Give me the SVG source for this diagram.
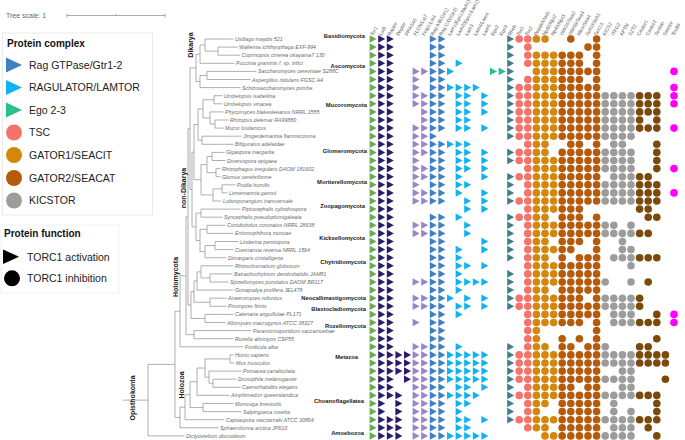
<svg xmlns="http://www.w3.org/2000/svg" xmlns:xlink="http://www.w3.org/1999/xlink" width="685" height="440" viewBox="0 0 685 440">
<style>
text{font-family:"Liberation Sans",Arial,sans-serif}
.tl{fill:none;stroke:#9a9a9a;stroke-width:0.8}
.sp{font-style:italic;font-size:5.3px;fill:#6b6b6b}
.cl{font-weight:bold;font-size:5.8px;fill:#1a1a1a;text-anchor:end}
.gl{font-weight:bold;font-size:7px;fill:#1a1a1a;text-anchor:middle}
.hd{font-size:4.9px;fill:#555}
.lg{font-size:10.5px;fill:#222}
.lt{font-weight:bold;font-size:10px;fill:#111}
.mx path,.mx use{fill:none;stroke:none}
.a{marker:url(#ka)}.b{marker:url(#kb)}.c{marker:url(#kc)}.d{marker:url(#kd)}.e{marker:url(#ke)}.f{marker:url(#kf)}.h{marker:url(#kh)}
.s{marker:url(#ks)}.o{marker:url(#ko)}.w{marker:url(#kw)}.k{marker:url(#kk)}.z{marker:url(#kz)}.m{marker:url(#km)}
</style>
<defs>
<marker id="ka" markerUnits="userSpaceOnUse" markerWidth="10" markerHeight="10" refX="5" refY="5" overflow="visible"><path d="M1.6,1.2L8.6,5L1.6,8.8Z" fill="#6aaa50"/></marker>
<marker id="kb" markerUnits="userSpaceOnUse" markerWidth="10" markerHeight="10" refX="5" refY="5" overflow="visible"><path d="M1.6,1.2L8.6,5L1.6,8.8Z" fill="#2b1b6b"/></marker>
<marker id="kc" markerUnits="userSpaceOnUse" markerWidth="10" markerHeight="10" refX="5" refY="5" overflow="visible"><path d="M1.6,1.2L8.6,5L1.6,8.8Z" fill="#9a85c6"/></marker>
<marker id="kd" markerUnits="userSpaceOnUse" markerWidth="10" markerHeight="10" refX="5" refY="5" overflow="visible"><path d="M1.6,1.2L8.6,5L1.6,8.8Z" fill="#3f80c4"/></marker>
<marker id="ke" markerUnits="userSpaceOnUse" markerWidth="10" markerHeight="10" refX="5" refY="5" overflow="visible"><path d="M1.6,1.2L8.6,5L1.6,8.8Z" fill="#0fb3f2"/></marker>
<marker id="kf" markerUnits="userSpaceOnUse" markerWidth="10" markerHeight="10" refX="5" refY="5" overflow="visible"><path d="M1.6,1.2L8.6,5L1.6,8.8Z" fill="#2cbf8e"/></marker>
<marker id="kh" markerUnits="userSpaceOnUse" markerWidth="10" markerHeight="10" refX="5" refY="5" overflow="visible"><path d="M1.6,1.2L8.6,5L1.6,8.8Z" fill="#3e7f8b"/></marker>
<marker id="ks" markerUnits="userSpaceOnUse" markerWidth="10" markerHeight="10" refX="5" refY="5" overflow="visible"><circle cx="5" cy="5" r="3.8" fill="#f4736b"/></marker>
<marker id="ko" markerUnits="userSpaceOnUse" markerWidth="10" markerHeight="10" refX="5" refY="5" overflow="visible"><circle cx="5" cy="5" r="3.8" fill="#d4870c"/></marker>
<marker id="kw" markerUnits="userSpaceOnUse" markerWidth="10" markerHeight="10" refX="5" refY="5" overflow="visible"><circle cx="5" cy="5" r="3.8" fill="#b65b0b"/></marker>
<marker id="kk" markerUnits="userSpaceOnUse" markerWidth="10" markerHeight="10" refX="5" refY="5" overflow="visible"><circle cx="5" cy="5" r="3.8" fill="#9c9c9c"/></marker>
<marker id="kz" markerUnits="userSpaceOnUse" markerWidth="10" markerHeight="10" refX="5" refY="5" overflow="visible"><circle cx="5" cy="5" r="3.8" fill="#7b4a0a"/></marker>
<marker id="km" markerUnits="userSpaceOnUse" markerWidth="10" markerHeight="10" refX="5" refY="5" overflow="visible"><circle cx="5" cy="5" r="3.8" fill="#ff00ff"/></marker>
<path id="all" d="M0 39V47.1V55.2V63.3V71.4V79.5V87.6V95.7V103.8V111.9V120V128.1V136.2V144.3V152.4V160.5V168.6V176.7V184.8V192.9V201V209.1V217.2V225.3V233.4V241.5V249.6V257.7V265.8V273.9V282V290.1V298.2V306.3V314.4V322.5V330.6V338.7V346.8V354.9V363V371.1V379.2V387.3V395.4V403.5V411.6V419.7V427.8V435.9"/>
</defs>
<rect width="685" height="440" fill="#fff"/>

<g id="scale">
<text x="6" y="18" style="font-size:7px;fill:#666">Tree scale: 1</text>
<path d="M67,15.5H165M67,13.5V17.5M116,14V15.5M165,13.5V17.5" fill="none" stroke="#888" stroke-width="0.7"/>
</g>

<g id="legend-complex">
<rect x="2.5" y="33" width="150" height="182" fill="#fff" stroke="#e6e6e6" stroke-width="0.8"/>
<text class="lt" x="7" y="46.5">Protein complex</text>
<path d="M6,57.5L22,65L6,72.5Z" fill="#3f80c4"/><text class="lg" x="29" y="69">Rag GTPase/Gtr1-2</text>
<path d="M6,80L22,87.5L6,95Z" fill="#0fb3f2"/><text class="lg" x="29" y="91.3">RAGULATOR/LAMTOR</text>
<path d="M6,102.5L22,110L6,117.5Z" fill="#2cbf8e"/><text class="lg" x="29" y="113.8">Ego 2-3</text>
<circle cx="14" cy="132.5" r="8" fill="#f4736b"/><text class="lg" x="29" y="136.3">TSC</text>
<circle cx="14" cy="155" r="8" fill="#d4870c"/><text class="lg" x="29" y="158.8">GATOR1/SEACIT</text>
<circle cx="14" cy="178" r="8" fill="#b65b0b"/><text class="lg" x="29" y="181.8">GATOR2/SEACAT</text>
<circle cx="14" cy="200.5" r="8" fill="#9c9c9c"/><text class="lg" x="29" y="204.3">KICSTOR</text>
</g>

<g id="legend-function">
<rect x="1" y="225" width="118" height="68" fill="#fff" stroke="#eeeeee" stroke-width="0.8"/>
<text class="lt" x="4" y="236.5">Protein function</text>
<path d="M3,249.5L19,256.7L3,264Z" fill="#000"/><text class="lg" x="27" y="260.5">TORC1 activation</text>
<circle cx="12" cy="278.3" r="8" fill="#000"/><text class="lg" x="27" y="282">TORC1 inhibition</text>
</g>

<g id="connectors">
<path class="tl" d="M218,47.1V55.2M218,47.1H237.5M218,55.2H240M205,39V51.15M205,39H233.5M205,51.15H218M200,45.08V63.3M200,45.08H205M200,63.3H234.5M207,71.4V79.5M207,71.4H256.5M207,79.5H250.5M200,75.45V87.6M200,75.45H207M200,87.6H240.5M196,54.19V81.53M196,54.19H200M196,81.53H200M214,95.7V103.8M214,95.7H222.5M214,103.8H222.5M215,120V128.1M215,120H228.5M215,128.1H223.5M210,111.9V124.05M210,111.9H223.5M210,124.05H215M203,99.75V117.98M203,99.75H214M203,117.98H210M202,136.2V144.3M202,136.2H241.5M202,144.3H233.5M198,108.86V140.25M198,108.86H203M198,140.25H202M212,152.4V160.5M212,152.4H224.5M212,160.5H225.5M216,168.6V176.7M216,168.6H220.5M216,176.7H220.5M207,156.45V172.65M207,156.45H212M207,172.65H216M222,184.8V192.9M222,184.8H235.5M222,192.9H227.5M213,188.85V201M213,188.85H222M213,201H221.5M201,164.55V194.93M201,164.55H207M201,194.93H213M194,124.56V179.74M194,124.56H198M194,179.74H201M201,209.1V217.2M201,209.1H240.5M201,217.2H222.5M207,225.3V233.4M207,225.3H225.5M207,233.4H233.5M215,241.5V249.6M215,241.5H238.5M215,249.6H233.5M205,245.55V257.7M205,245.55H215M205,257.7H226.5M200,229.35V251.63M200,229.35H207M200,251.63H205M196,213.15V240.49M196,213.15H201M196,240.49H200M192,152.15V226.82M192,152.15H194M192,226.82H196M190,67.86V189.49M190,67.86H196M190,189.49H192M210,273.9V282M210,273.9H232.5M210,282H228.5M201,265.8V277.95M201,265.8H233.5M201,277.95H210M197,271.88V290.1M197,271.88H201M197,290.1H233.5M210,298.2V306.3M210,298.2H226.5M210,306.3H226.5M194,280.99V302.25M194,280.99H197M194,302.25H210M205,314.4V322.5M205,314.4H233.5M205,322.5H225.5M191,291.62V318.45M191,291.62H194M191,318.45H205M188,128.68V305.04M188,128.68H190M188,305.04H191M194,330.6V338.7M194,330.6H251.5M194,338.7H233.5M186,216.86V334.65M186,216.86H188M186,334.65H194M180,275.75V346.8M180,275.75H186M180,346.8H243.5M230,354.9V363M230,354.9H233.5M230,363H234.5M213,379.2V387.3M213,379.2H236.5M213,387.3H240.5M209,371.1V383.25M209,371.1H241.5M209,383.25H213M205,358.95V377.18M205,358.95H230M205,377.18H209M197,368.07V395.4M197,368.07H205M197,395.4H229.5M203,403.5V411.6M203,403.5H233.5M203,411.6H241.5M190,381.73V407.55M190,381.73H197M190,407.55H203M185,394.64V419.7M185,394.64H190M185,419.7H224.5M180,407.17V427.8M180,407.17H185M180,427.8H218.5M175,311.28V417.49M175,311.28H180M175,417.49H180M148,364.38V435.9M148,364.38H175M148,435.9H184.5M123,400.14H148"/>
</g>

<g id="group-labels">
<text class="gl" transform="translate(192.5,45) rotate(-90)">Dikarya</text>
<text class="gl" transform="translate(185.5,188) rotate(-90)">non-Dikarya</text>
<text class="gl" transform="translate(177.5,277) rotate(-90)">Holomycota</text>
<text class="gl" transform="translate(183.5,385) rotate(-90)">Holozoa</text>
<text class="gl" transform="translate(134.5,398) rotate(-90)">Opisthokonta</text>
</g>

<g id="clade-labels">
<text class="cl" x="365" y="38">Basidiomycota</text>
<text class="cl" x="365" y="68">Ascomycota</text>
<text class="cl" x="367" y="107">Mucoromycota</text>
<text class="cl" x="367" y="153">Glomeromycota</text>
<text class="cl" x="367" y="184">Mortierellomycota</text>
<text class="cl" x="365" y="208">Zoopagomycota</text>
<text class="cl" x="365" y="240">Kickxellomycota</text>
<text class="cl" x="366" y="264">Chytridiomycota</text>
<text class="cl" x="366" y="300">Neocallimastigomycota</text>
<text class="cl" x="366" y="311">Blastocladiomycota</text>
<text class="cl" x="366" y="328">Rozellomycota</text>
<text class="cl" x="358" y="359">Metazoa</text>
<text class="cl" x="364" y="403">Choanoflagellatea</text>
<text class="cl" x="364" y="435">Amoebozoa</text>
</g>

<g id="species" class="sp">
<g id="n0"><text x="235" y="41">Ustilago maydis 521</text></g>
<g id="n1"><text x="239" y="49.1">Wallemia ichthyophaga EXF-994</text></g>
<g id="n2"><text x="241.5" y="57.2">Coprinopsis cinerea okayama7 130</text></g>
<g id="n3"><text x="236" y="65.3">Puccinia graminis f. sp. tritici</text></g>
<g id="n4"><text x="258" y="73.4">Saccharomyces cerevisiae S288C</text></g>
<g id="n5"><text x="252" y="81.5">Aspergillus nidulans FGSC A4</text></g>
<g id="n6"><text x="242" y="89.6">Schizosaccharomyces pombe</text></g>
<g id="n7"><text x="224" y="97.7">Umbelopsis isabellina</text></g>
<g id="n8"><text x="224" y="105.8">Umbelopsis vinacea</text></g>
<g id="n9"><text x="225" y="113.9">Phycomyces blakesleeanus NRRL 1555</text></g>
<g id="n10"><text x="230" y="122">Rhizopus delemar RA99880</text></g>
<g id="n11"><text x="225" y="130.1">Mucor lusitanicus</text></g>
<g id="n12"><text x="243" y="138.2">Jimgerdemannia flammicorona</text></g>
<g id="n13"><text x="235" y="146.3">Bifiguratus adelaidae</text></g>
<g id="n14"><text x="226" y="154.4">Gigaspora margarita</text></g>
<g id="n15"><text x="227" y="162.5">Diversispora epigaea</text></g>
<g id="n16"><text x="222" y="170.6">Rhizophagus irregularis DAOM 181602</text></g>
<g id="n17"><text x="222" y="178.7">Glomus cerebriforme</text></g>
<g id="n18"><text x="237" y="186.8">Podila humilis</text></g>
<g id="n19"><text x="229" y="194.9">Linnemannia gamsii</text></g>
<g id="n20"><text x="223" y="203">Lobosporangium transversale</text></g>
<g id="n21"><text x="242" y="211.1">Piptocephalis cylindrospora</text></g>
<g id="n22"><text x="224" y="219.2">Syncephalis pseudoplumigaleata</text></g>
<g id="n23"><text x="227" y="227.3">Conidiobolus coronatus NRRL 28638</text></g>
<g id="n24"><text x="235" y="235.4">Entomophthora muscae</text></g>
<g id="n25"><text x="240" y="243.5">Linderina pennispora</text></g>
<g id="n26"><text x="235" y="251.6">Coemansia reversa NRRL 1564</text></g>
<g id="n27"><text x="228" y="259.7">Dimargaris cristalligena</text></g>
<g id="n28"><text x="235" y="267.8">Rhizoclosmatium globosum</text></g>
<g id="n29"><text x="234" y="275.9">Batrachochytrium dendrobatidis JAM81</text></g>
<g id="n30"><text x="230" y="284">Spizellomyces punctatus DAOM BR117</text></g>
<g id="n31"><text x="235" y="292.1">Gonapodya prolifera JEL478</text></g>
<g id="n32"><text x="228" y="300.2">Anaeromyces robustus</text></g>
<g id="n33"><text x="228" y="308.3">Piromyces finnis</text></g>
<g id="n34"><text x="235" y="316.4">Catenaria anguillulae PL171</text></g>
<g id="n35"><text x="227" y="324.5">Allomyces macrogynus ATCC 38327</text></g>
<g id="n36"><text x="253" y="332.6">Paramicrosporidium saccamoebae</text></g>
<g id="n37"><text x="235" y="340.7">Rozella allomycis CSF55</text></g>
<g id="n38"><text x="245" y="348.8">Fonticula alba</text></g>
<g id="n39"><text x="235" y="356.9">Homo sapiens</text></g>
<g id="n40"><text x="236" y="365">Mus musculus</text></g>
<g id="n41"><text x="243" y="373.1">Pomacea canaliculata</text></g>
<g id="n42"><text x="238" y="381.2">Drosophila melanogaster</text></g>
<g id="n43"><text x="242" y="389.3">Caenorhabditis elegans</text></g>
<g id="n44"><text x="231" y="397.4">Amphimedon queenslandica</text></g>
<g id="n45"><text x="235" y="405.5">Monosiga brevicolis</text></g>
<g id="n46"><text x="243" y="413.6">Salpingoeca rosetta</text></g>
<g id="n47"><text x="226" y="421.7">Capsaspora owczarzaki ATCC 30864</text></g>
<g id="n48"><text x="220" y="429.8">Sphaeroforma arctica JP610</text></g>
<g id="n49"><text x="186" y="437.9">Dictyostelium discoideum</text></g>
</g>

<g id="headers" class="hd">
<text transform="translate(373,36) rotate(-60)">Tor1</text>
<text transform="translate(381.6,36) rotate(-60)">Lst8</text>
<text transform="translate(390.2,36) rotate(-60)">Raptor</text>
<text transform="translate(398.8,36) rotate(-60)">Deptor</text>
<text transform="translate(407.4,36) rotate(-60)">PRAS40</text>
<text transform="translate(416,36) rotate(-60)">FLCN/Lst7</text>
<text transform="translate(424.6,36) rotate(-60)">Fnip1/Lst4</text>
<text transform="translate(433.2,36) rotate(-60)">Rag A/B(Gtr1)</text>
<text transform="translate(441.8,36) rotate(-60)">Rag C/D(Gtr2)</text>
<text transform="translate(450.4,36) rotate(-60)">Lam1(Ego1/Meh1)</text>
<text transform="translate(459,36) rotate(-60)">Lam2(Ego1/Lam1)</text>
<text transform="translate(467.6,36) rotate(-60)">Lam3</text>
<text transform="translate(476.2,36) rotate(-60)">Lam4/Lam4</text>
<text transform="translate(484.8,36) rotate(-60)">Lam5</text>
<text transform="translate(493.4,36) rotate(-60)">Ego2</text>
<text transform="translate(502,36) rotate(-60)">Ego3</text>
<text transform="translate(510.6,36) rotate(-60)">Rheb</text>
<text transform="translate(519.2,36) rotate(-60)">Tsc1</text>
<text transform="translate(527.8,36) rotate(-60)">Tsc2</text>
<text transform="translate(536.4,36) rotate(-60)">Depdc5/Iml1</text>
<text transform="translate(545,36) rotate(-60)">Nprl2/Npr2</text>
<text transform="translate(553.6,36) rotate(-60)">Nprl3/Npr3</text>
<text transform="translate(562.2,36) rotate(-60)">Wdr24/Sea2</text>
<text transform="translate(570.8,36) rotate(-60)">Wdr59/Sea3</text>
<text transform="translate(579.4,36) rotate(-60)">Mios/Sea4</text>
<text transform="translate(588,36) rotate(-60)">Seh1l/Seh1</text>
<text transform="translate(596.6,36) rotate(-60)">Sec13</text>
<text transform="translate(605.2,36) rotate(-60)">KICS2</text>
<text transform="translate(613.8,36) rotate(-60)">ITFG2</text>
<text transform="translate(622.4,36) rotate(-60)">KPTN</text>
<text transform="translate(631,36) rotate(-60)">SZT2</text>
<text transform="translate(639.6,36) rotate(-60)">Castor1</text>
<text transform="translate(648.2,36) rotate(-60)">Castor2</text>
<text transform="translate(656.8,36) rotate(-60)">Sestrin</text>
<text transform="translate(665.4,36) rotate(-60)">Samtor</text>
<text transform="translate(674,36) rotate(-60)">Tco89</text>
</g>

<g id="matrix" class="mx">
<use href="#all" x="373" class="a"/>
<use href="#all" x="381.6" class="b"/>
<path class="b" d="M390.2 39V47.1V55.2V63.3V71.4V79.5V87.6V95.7V103.8V111.9V120V128.1V136.2V144.3V152.4V160.5V168.6V176.7V184.8V192.9V201V209.1V217.2V225.3V233.4V241.5V249.6V257.7V265.8V273.9V282V290.1V298.2V306.3V314.4V322.5V330.6V338.7V346.8V354.9V363V371.1V379.2V387.3V395.4V419.7V427.8V435.9"/>
<path class="b" d="M398.8 354.9V363V371.1V395.4V403.5V411.6V419.7V427.8V435.9"/>
<path class="b" d="M407.4 354.9V363V371.1V379.2"/>
<path class="c" d="M416 71.4V79.5V87.6V95.7V103.8V128.1V136.2V144.3V152.4V160.5V168.6V176.7V184.8V192.9V201V225.3V233.4V282V298.2V306.3V322.5V346.8V354.9V363V371.1V379.2V387.3V395.4V403.5V411.6V419.7V427.8V435.9"/>
<path class="c" d="M424.6 71.4V95.7V103.8V111.9V120V128.1V136.2V144.3V152.4V168.6V176.7V192.9V201V225.3V233.4V282V298.2V306.3V346.8V354.9V363V371.1V379.2V387.3V395.4V403.5V411.6V419.7V427.8V435.9"/>
<path class="d" d="M433.2 39V47.1V55.2V63.3V71.4V79.5V87.6V95.7V103.8V111.9V120V128.1V136.2V144.3V152.4V160.5V168.6V176.7V184.8V192.9V201V217.2V225.3V233.4V241.5V249.6V257.7V265.8V273.9V282V290.1V298.2V306.3V314.4V322.5V330.6V338.7V346.8V354.9V363V371.1V379.2V387.3V395.4V403.5V411.6V419.7V427.8V435.9"/>
<path class="d" d="M441.8 39V47.1V55.2V63.3V71.4V79.5V87.6V95.7V103.8V111.9V120V128.1V144.3V152.4V160.5V168.6V176.7V184.8V192.9V201V217.2V225.3V233.4V241.5V249.6V257.7V265.8V273.9V282V290.1V298.2V306.3V314.4V322.5V330.6V338.7V346.8V354.9V363V371.1V379.2V387.3V395.4V403.5V411.6V419.7V427.8V435.9"/>
<path class="e" d="M450.4 71.4V87.6V144.3V298.2V354.9V363V371.1V379.2V395.4V435.9"/>
<path class="e" d="M459 63.3V87.6V95.7V103.8V111.9V120V128.1V144.3V152.4V160.5V168.6V176.7V184.8V192.9V217.2V249.6V257.7V265.8V273.9V282V290.1V306.3V314.4V346.8V354.9V363V371.1V379.2V387.3V395.4V403.5V411.6V419.7V427.8V435.9"/>
<path class="e" d="M467.6 87.6V95.7V103.8V111.9V120V128.1V144.3V152.4V160.5V168.6V184.8V201V209.1V225.3V233.4V265.8V282V298.2V306.3V354.9V363V371.1V379.2V387.3V395.4V403.5V419.7V427.8V435.9"/>
<path class="e" d="M476.2 87.6V282V354.9V363V371.1V379.2V395.4V435.9"/>
<path class="e" d="M484.8 95.7V103.8V111.9V128.1V152.4V160.5V168.6V176.7V192.9V201V209.1V241.5V249.6V265.8V282V298.2V306.3V354.9V363V371.1V379.2V387.3V419.7V435.9"/>
<path class="f" d="M493.4 71.4H502"/>
<path class="h" d="M510.6 39V47.1V55.2V63.3V71.4V79.5V87.6V95.7V103.8V111.9V120V128.1V136.2V152.4V160.5V176.7V184.8V192.9V201V217.2V225.3V233.4V241.5V249.6V257.7V273.9V282V290.1V298.2V306.3V346.8V354.9V363V371.1V379.2V387.3V395.4V403.5V411.6V419.7"/>
<path class="s" d="M519.2 39V87.6V95.7V103.8V111.9V120V128.1V136.2V152.4V160.5V176.7V201V217.2V298.2V306.3V354.9V363V371.1V379.2V395.4V419.7"/>
<path class="s" d="M527.8 39V47.1V55.2V63.3V79.5V87.6V95.7V103.8V111.9V120V128.1V136.2V144.3V152.4V160.5V168.6V176.7V184.8V192.9V201V209.1V217.2V225.3V233.4V241.5V249.6V257.7V265.8V273.9V282V290.1V298.2V306.3V314.4V322.5V330.6V338.7V346.8V354.9V363V371.1V379.2V387.3V395.4V403.5V411.6V419.7V427.8"/>
<path class="o" d="M536.4 39V55.2V63.3V71.4V79.5V87.6V95.7V103.8V111.9V120V128.1V136.2V144.3V152.4V160.5V168.6V176.7V184.8V192.9V201V209.1V217.2V225.3V233.4V241.5V249.6V257.7V265.8V273.9V282V290.1V298.2V306.3V314.4V322.5V330.6V338.7V346.8V354.9V363V371.1V379.2V387.3V395.4V403.5V411.6V419.7V427.8"/>
<path class="o" d="M545 39V55.2V63.3V71.4V79.5V87.6V95.7V103.8V111.9V120V128.1V136.2V144.3V152.4V160.5V168.6V176.7V184.8V192.9V201V209.1V217.2V225.3V233.4V241.5V249.6V257.7V265.8V273.9V282V290.1V298.2V306.3V314.4V322.5V346.8V354.9V363V371.1V379.2V387.3V395.4V403.5V419.7V427.8V435.9"/>
<path class="o" d="M553.6 55.2V63.3V71.4V79.5V87.6V95.7V103.8V111.9V120V128.1V136.2V160.5V168.6V176.7V184.8V192.9V201V209.1V225.3V233.4V249.6V265.8V273.9V282V298.2V306.3V314.4V322.5V354.9V363V371.1V379.2V387.3V395.4V419.7V435.9"/>
<path class="w" d="M562.2 55.2V63.3V71.4V79.5V87.6V95.7V103.8V111.9V120V128.1V136.2V152.4V160.5V168.6V176.7V184.8V192.9V201V209.1V217.2V225.3V233.4V241.5V249.6V257.7V265.8V273.9V282V290.1V298.2V306.3V314.4V322.5V338.7V346.8V354.9V363V371.1V379.2V387.3V395.4V403.5V411.6V419.7V427.8V435.9"/>
<path class="w" d="M570.8 39V55.2V63.3V71.4V79.5V87.6V95.7V103.8V111.9V120V128.1V136.2V144.3V152.4V160.5V168.6V176.7V184.8V192.9V201V209.1V217.2V225.3V233.4V241.5V249.6V265.8V273.9V282V290.1V298.2V306.3V314.4V322.5V346.8V354.9V363V371.1V379.2V387.3V395.4V403.5V411.6V419.7V427.8V435.9"/>
<path class="w" d="M579.4 55.2V63.3V71.4V79.5V87.6V95.7V103.8V111.9V120V128.1V136.2V144.3V152.4V160.5V168.6V176.7V184.8V192.9V201V209.1V217.2V225.3V233.4V241.5V257.7V265.8V273.9V282V290.1V298.2V306.3V314.4V322.5V338.7V354.9V363V371.1V379.2V395.4V403.5V411.6V419.7V427.8V435.9"/>
<path class="w" d="M588 47.1V71.4V87.6V95.7V103.8V111.9V120V128.1V136.2V152.4V160.5V168.6V176.7V184.8V192.9V201V225.3V233.4V257.7V265.8V273.9V282V290.1V306.3V314.4V346.8V354.9V363V371.1V379.2V387.3V395.4V403.5V411.6V419.7V427.8V435.9"/>
<path class="w" d="M596.6 39V47.1V55.2V63.3V71.4V79.5V87.6V95.7V103.8V111.9V120V128.1V136.2V144.3V152.4V160.5V168.6V176.7V184.8V192.9V201V217.2V225.3V233.4V241.5V249.6V257.7V265.8V273.9V282V290.1V298.2V306.3V314.4V322.5V330.6V338.7V346.8V354.9V363V371.1V379.2V387.3V395.4V403.5V411.6V419.7V427.8V435.9"/>
<path class="k" d="M605.2 95.7V103.8V111.9V120V128.1V136.2V152.4V160.5V168.6V184.8V192.9V201V225.3V233.4V282V298.2V306.3V346.8V354.9V363V379.2V395.4V419.7V435.9"/>
<path class="k" d="M613.8 95.7V103.8V111.9V120V128.1V136.2V144.3V152.4V160.5V168.6V176.7V184.8V192.9V201V225.3V233.4V257.7V298.2V306.3V314.4V322.5V354.9V363V379.2V395.4V403.5V411.6V419.7V427.8V435.9"/>
<path class="k" d="M622.4 95.7V103.8V111.9V120V128.1V136.2V144.3V152.4V160.5V168.6V176.7V184.8V192.9V201V233.4V241.5V249.6V257.7V298.2V306.3V314.4V322.5V354.9V363V371.1V379.2V387.3V395.4V419.7V427.8V435.9"/>
<path class="k" d="M631 95.7V103.8V111.9V120V128.1V136.2V152.4V160.5V168.6V176.7V184.8V192.9V201V225.3V233.4V249.6V257.7V265.8V282V298.2V306.3V314.4V322.5V354.9V363V371.1V379.2V387.3V395.4V411.6V419.7V427.8V435.9"/>
<path class="z" d="M639.6 95.7V103.8V111.9V120V128.1V176.7V184.8V192.9V201V209.1V233.4V257.7V298.2V306.3V322.5V346.8V354.9V363V395.4V419.7"/>
<path class="z" d="M648.2 95.7V103.8V111.9V128.1V176.7V184.8V192.9V201V209.1V217.2V233.4V257.7V282V322.5V346.8V354.9V363V395.4V419.7V427.8"/>
<path class="z" d="M656.8 95.7V103.8V111.9V120V128.1V144.3V152.4V160.5V168.6V184.8V192.9V201V217.2V257.7V314.4V322.5V338.7V354.9V363V395.4V403.5V411.6V419.7V435.9"/>
<path class="z" d="M665.4 354.9V363V379.2"/>
<path class="m" d="M674 71.4V87.6V95.7V103.8V128.1V168.6V192.9V314.4V322.5"/>
</g>
</svg>
